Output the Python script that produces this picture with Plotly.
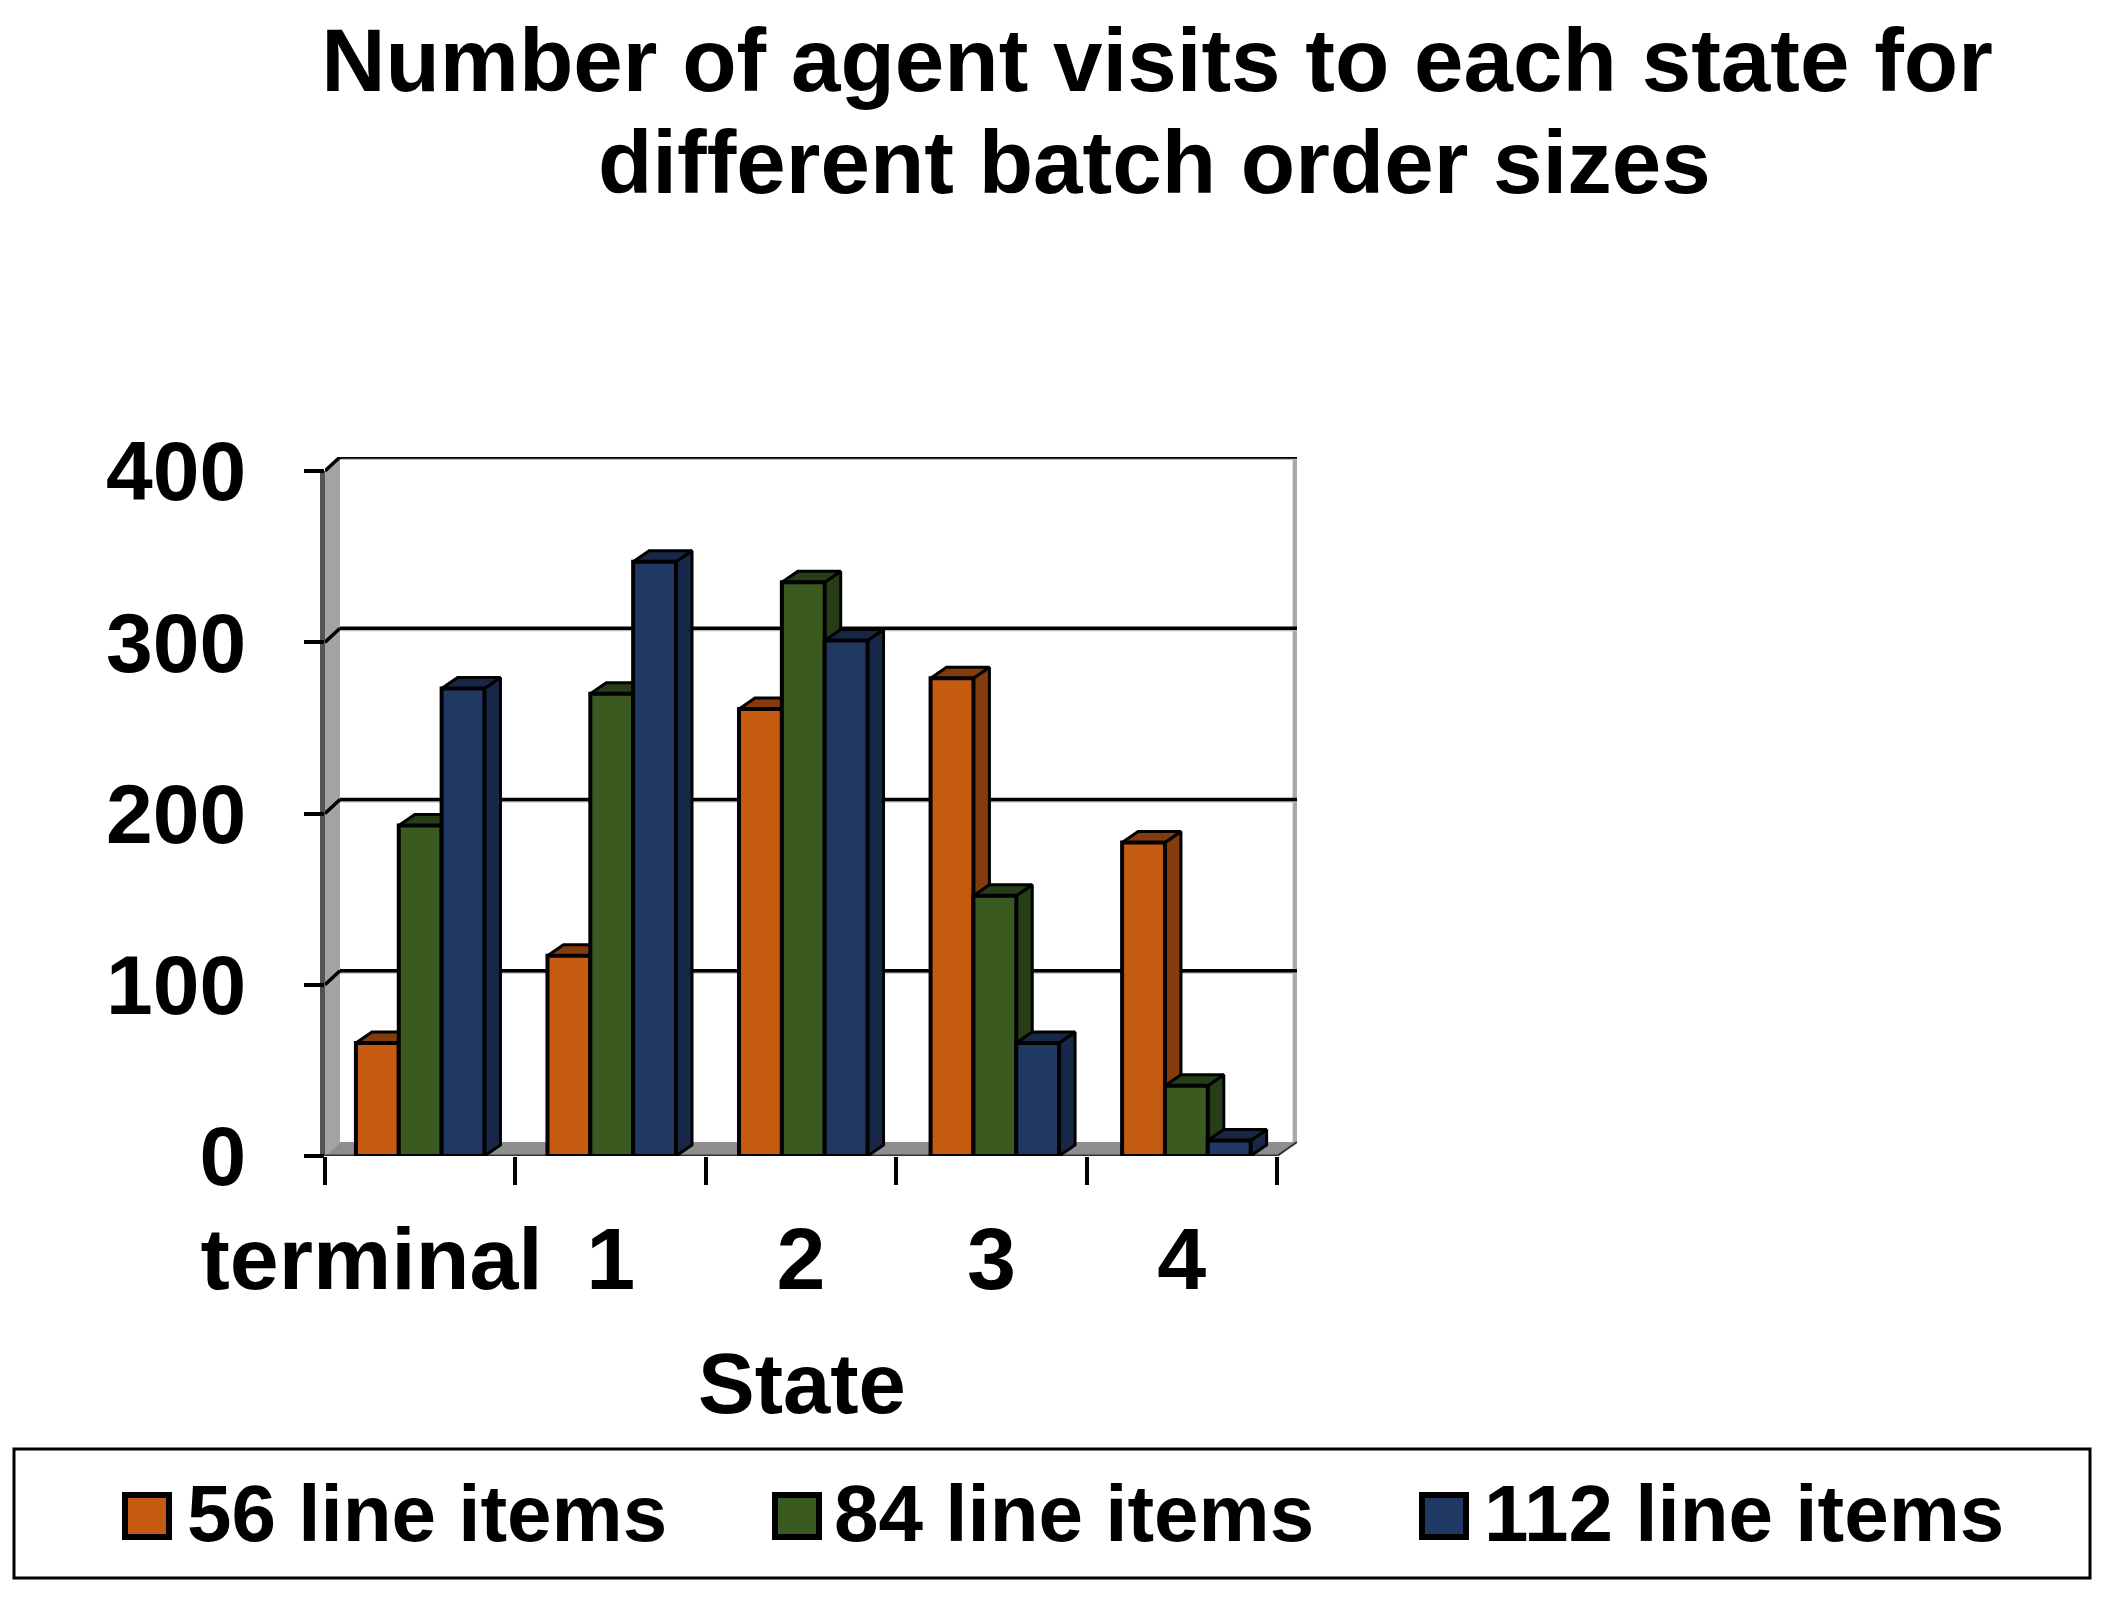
import plotly.graph_objects as go

# data
categories = ["terminal", "1", "2", "3", "4"]
series_names = ["56 line items", "84 line items", "112 line items"]
values_56 = [66, 117, 261, 279, 183]
values_84 = [193, 270, 335, 152, 41]
values_112 = [273, 347, 301, 66, 9]
y_ticks = [0, 100, 200, 300, 400]
# "terminal" does not sit under its group in the original
label_positions = [-0.255, 1, 2, 3, 4]
tick_marks = [-0.5, 0.5, 1.5, 2.5, 3.5, 4.5]

front_colors = ["#C55A11", "#3A5A20", "#1F3864"]
dark_colors = ["#843C0C", "#263D17", "#162747"]

W, H = 2106, 1599
FONT = "Liberation Sans"

# page pixels of the front plane of the chart
LEFT, RIGHT = 325, 1277
BOTTOM, TOP = 1156, 471
CAT_PX = (RIGHT - LEFT) / 5
VAL_PX = (BOTTOM - TOP) / 400

# 3d depth of walls and bars, in data units
WALL_DX, WALL_DY = 20 / CAT_PX, 14 / VAL_PX
BAR_DX, BAR_DY = 16 / CAT_PX, 11 / VAL_PX
BAR_W = 0.225
# groups drift a little to the right of the tick spacing in the original
GROUP_STEP = 1.006


def px(x):
    return x / W


def py(y):
    return 1 - y / H


fig = go.Figure()

# walls and gridlines sit behind the bars
x0, x1 = tick_marks[0], tick_marks[-1]
y_top = y_ticks[-1]
fig.add_shape(type="path", layer="below", line=dict(width=0), fillcolor="#A3A3A3",
              path=f"M {x0} 0 L {x0} {y_top} L {x0 + WALL_DX * 0.75} {y_top + WALL_DY} "
                   f"L {x0 + WALL_DX * 0.75} {WALL_DY} Z")
fig.add_shape(type="path", layer="below", line=dict(width=0), fillcolor="#8E8E8E",
              path=f"M {x0} 0 L {x1} 0 L {x1 + WALL_DX} {WALL_DY} "
                   f"L {x0 + WALL_DX * 0.75} {WALL_DY} Z")
fig.add_shape(type="rect", layer="below", line=dict(width=0), fillcolor="#555555",
              xref="paper", yref="paper", x0=px(320), x1=px(LEFT), y0=py(BOTTOM), y1=py(TOP))
fig.add_shape(type="line", layer="below", line=dict(color="#AAAAAA", width=5),
              x0=x1 + WALL_DX - 0.01, x1=x1 + WALL_DX - 0.01, y0=WALL_DY, y1=y_top + WALL_DY)
fig.add_shape(type="line", layer="below", line=dict(color="#333333", width=3),
              x0=x0, x1=x1, y0=0, y1=0)
fig.add_shape(type="line", layer="below", line=dict(color="#333333", width=2),
              x0=x1, x1=x1 + WALL_DX, y0=0, y1=WALL_DY)

for t in y_ticks[1:]:
    fig.add_shape(type="line", layer="below", line=dict(color="#BBBBBB", width=2),
                  x0=x0 + WALL_DX * 0.75, x1=x1 + WALL_DX, y0=t + WALL_DY - 1.2, y1=t + WALL_DY - 1.2)
    fig.add_shape(type="line", layer="below", line=dict(color="black", width=3.5),
                  x0=x0 + WALL_DX * 0.75, x1=x1 + WALL_DX, y0=t + WALL_DY, y1=t + WALL_DY)
    fig.add_shape(type="line", layer="below", line=dict(color="black", width=3.5),
                  x0=x0, x1=x0 + WALL_DX * 0.75, y0=t, y1=t + WALL_DY)

# each series: side and top faces first, then the front bar over them
all_values = [values_56, values_84, values_112]
x_pos = [c * GROUP_STEP for c in range(len(categories))]
for i, values in enumerate(all_values):
    side_x, side_y, top_x, top_y = [], [], [], []
    offset = (i - 1.5) * BAR_W
    for c, v in zip(x_pos, values):
        a = c + offset
        b = a + BAR_W
        side_x += [b, b + BAR_DX, b + BAR_DX, b, b, None]
        side_y += [0, BAR_DY, v + BAR_DY, v, 0, None]
        top_x += [a, a + BAR_DX, b + BAR_DX, b, a, None]
        top_y += [v, v + BAR_DY, v + BAR_DY, v, v, None]
    for fx, fy in ((side_x, side_y), (top_x, top_y)):
        fig.add_trace(go.Scatter(
            x=fx, y=fy, mode="lines", fill="toself", fillcolor=dark_colors[i],
            line=dict(color="black", width=3), showlegend=False, hoverinfo="skip",
            zorder=2 * i + 1,
        ))
    fig.add_trace(go.Bar(
        x=x_pos, y=values, name=series_names[i], width=BAR_W, offset=offset,
        marker=dict(color=front_colors[i], line=dict(color="black", width=4)),
        showlegend=False, zorder=2 * i + 2,
    ))

# hand made legend box, plotly's own keys cannot get this big
fig.add_shape(type="rect", xref="paper", yref="paper", line=dict(color="black", width=3),
              fillcolor="white", x0=px(14), x1=px(2090), y0=py(1578), y1=py(1449))
legend_key_x = [125, 775, 1422]
legend_text_x = [185, 832, 1482]
for i, name in enumerate(series_names):
    fig.add_shape(type="rect", xref="paper", yref="paper", line=dict(color="black", width=6),
                  fillcolor=front_colors[i], x0=px(legend_key_x[i]), x1=px(legend_key_x[i] + 44),
                  y0=py(1537), y1=py(1495))
    fig.add_annotation(text=name, xref="paper", yref="paper", x=px(legend_text_x[i]), y=py(1513),
                       xanchor="left", yanchor="middle", showarrow=False,
                       font=dict(family=FONT, size=80, color="black", weight="bold"))

# second title line, the spacing of a <br> is too wide here
fig.add_annotation(text="different batch order sizes", xref="paper", yref="paper",
                   x=px(1154), y=py(162), xanchor="center", yanchor="middle", showarrow=False,
                   font=dict(family=FONT, size=89, color="black", weight="bold"))

# axis title as annotation, without automargin plotly ignores its standoff
fig.add_annotation(text="State", xref="paper", yref="paper", x=px(802), y=py(1383),
                   xanchor="center", yanchor="middle", showarrow=False,
                   font=dict(family=FONT, size=85, color="black", weight="bold"))

fig.update_layout(
    width=W, height=H, margin=dict(l=0, r=0, t=0, b=0),
    paper_bgcolor="white", plot_bgcolor="white", barmode="overlay", showlegend=False,
    title=dict(text="Number of agent visits to each state for", x=px(1157), y=py(60),
               xanchor="center", yanchor="middle", automargin=False,
               font=dict(family=FONT, size=89, color="black", weight="bold")),
    xaxis=dict(
        domain=[px(LEFT), px(RIGHT + 20)], range=[x0, x1 + WALL_DX], showgrid=False, zeroline=False,
        showline=False, automargin=False, tickmode="array", tickvals=label_positions, ticktext=categories,
        ticks="", ticklabelstandoff=44, tickfont=dict(family=FONT, size=88, color="black", weight="bold"),
        minor=dict(tickmode="array", tickvals=tick_marks, ticks="outside", ticklen=28,
                   tickwidth=3.5, tickcolor="black", showgrid=False),
    ),
    yaxis=dict(
        domain=[py(BOTTOM), py(TOP - 14)], range=[0, y_top + WALL_DY], showgrid=False, zeroline=False,
        showline=False, automargin=False, tickmode="array", tickvals=y_ticks, ticks="outside", ticklen=20,
        tickwidth=3.5, tickcolor="black", ticklabelstandoff=41,
        tickfont=dict(family=FONT, size=84, color="black", weight="bold"),
    ),
)

# page margin would push the figure 8px off, and clip it on the right
fig.write_html("out.html", config={"displayModeBar": False},
               post_script="document.body.style.margin = '0';")
